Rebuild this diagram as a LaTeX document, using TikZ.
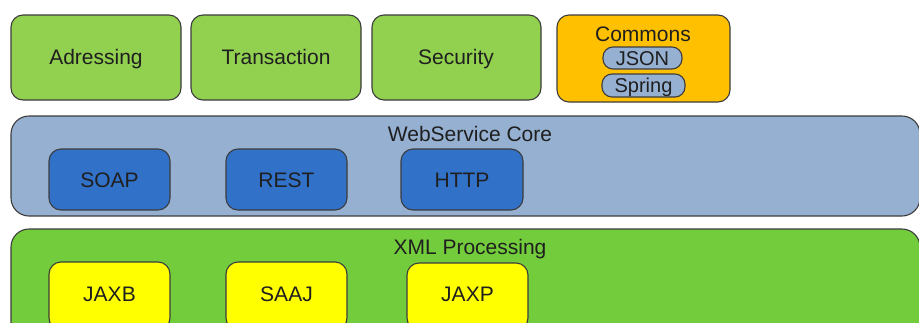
\documentclass[tikz,border=0pt]{standalone}
\usepackage{fontspec}
\setmainfont{Liberation Sans}
\definecolor{modgreen}{HTML}{92D050}
\definecolor{commonsorange}{HTML}{FFC000}
\definecolor{corebg}{HTML}{95B0D0}
\definecolor{protoblue}{HTML}{3171C8}
\definecolor{xmlgreen}{HTML}{73CC3C}
\definecolor{apiyellow}{HTML}{FFFF00}
\definecolor{edge}{HTML}{3C3C3C}
\tikzset{
  box/.style={draw=edge, line width=1.1pt, rounded corners=12pt},
  layer/.style={draw=edge, line width=1.1pt, rounded corners=18pt},
  pill/.style={draw=edge, line width=1.1pt, rounded corners=10pt, fill=corebg},
  lbl/.style={font=\fontsize{21}{23}\selectfont, text=black!88, text height=15pt, text depth=0pt},
  small/.style={font=\fontsize{20}{22}\selectfont, text=black!88, text height=14.5pt, text depth=0pt},
}
\begin{document}
\begin{tikzpicture}[x=1pt,y=-1pt]
\useasboundingbox (0,0) rectangle (919,322);
\clip (0,0) rectangle (919,322);

% top row of modules
\draw[box, fill=modgreen] (11,15) rectangle (181,100);
\node[lbl] (adr) at (96,57) {Adressing};
\draw[box, fill=modgreen] (191,15) rectangle (361,100);
\node[lbl] (tra) at (276,57) {Transaction};
\draw[box, fill=modgreen] (372,15) rectangle (541,100);
\node[lbl] (sec) at (456,57) {Security};
\draw[box, fill=commonsorange] (557,15) rectangle (730,102);
\node[lbl] (com) at (643,34) {Commons};
\draw[pill] (603,47) rectangle (682,69);
\node[small] (json) at (642.5,58) {JSON};
\draw[pill] (602,74) rectangle (685,97);
\node[small] (spr) at (643.5,85.5) {Spring};

% web service core layer
\draw[layer, fill=corebg] (11,116) rectangle (920,216);
\node[lbl] (core) at (470,134) {WebService Core};
\draw[box, fill=protoblue] (49,149) rectangle (170,210);
\node[lbl] (soap) at (109.5,179.5) {SOAP};
\draw[box, fill=protoblue] (226,149) rectangle (347,210);
\node[lbl] (rest) at (286.5,179.5) {REST};
\draw[box, fill=protoblue] (401,149) rectangle (523,210);
\node[lbl] (http) at (462,179.5) {HTTP};

% xml processing layer
\draw[layer, fill=xmlgreen] (11,229) rectangle (920,345);
\node[lbl] (xml) at (470,247) {XML Processing};
\draw[box, fill=apiyellow] (49,262) rectangle (170,330);
\node[lbl] (jaxb) at (109.5,294) {JAXB};
\draw[box, fill=apiyellow] (226,262) rectangle (347,330);
\node[lbl] (saaj) at (286.5,294) {SAAJ};
\draw[box, fill=apiyellow] (407,263) rectangle (528,330);
\node[lbl] (jaxp) at (467.5,294) {JAXP};
\end{tikzpicture}
\end{document}
